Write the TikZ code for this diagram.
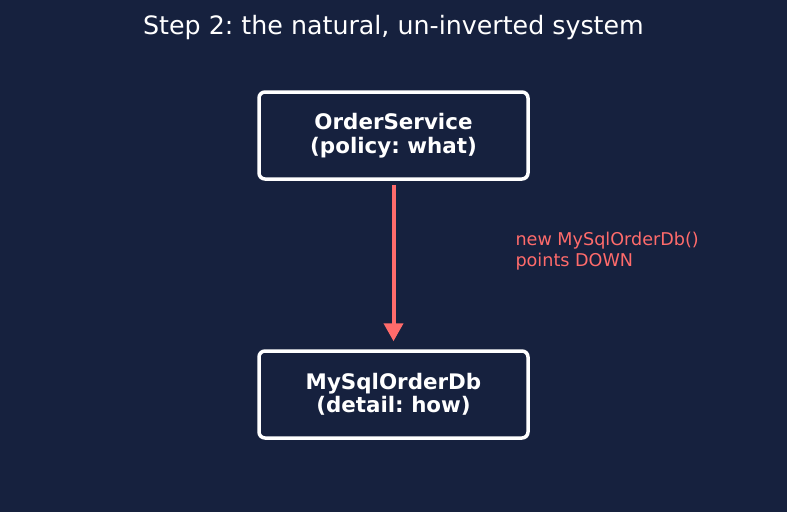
\documentclass[tikz,border=0pt]{standalone}
\usepackage{fontspec}
\setmainfont{DejaVu Sans}
\usepackage{xcolor}
\usetikzlibrary{positioning,arrows.meta}

\definecolor{bgnavy}{HTML}{16213E}
\definecolor{coral}{HTML}{FF6B6B}
\frenchspacing

\begin{document}
\begin{tikzpicture}[x=1pt,y=-1pt,
    every node/.style={on grid,node distance=259pt},
    layer/.style={draw=white,line width=3.5pt,rounded corners=6pt,fill=bgnavy,
      text=white,minimum width=269pt,minimum height=87pt,align=center,
      font=\fontsize{21.4}{23.5}\selectfont\bfseries},
    calls/.style={draw=coral,line width=4pt,-{Triangle[length=18pt,width=19pt]}}]
    \fill[bgnavy] (0,0) rectangle (787,512);
    \useasboundingbox (0,0) rectangle (787,512);
    \node[text=white,font=\fontsize{25.3}{28}\selectfont] (title) at (393.5,28) {Step 2: the natural, un-inverted system};
    \node[layer] (svc) at (393.5,135.5) {OrderService\\(policy: what)};
    \node[layer,below of=svc] (db) {MySqlOrderDb\\(detail: how)};
    \draw[calls,shorten <=4pt,shorten >=8pt] (svc) -- (db);
    \node[text=coral,align=left,anchor=west,font=\fontsize{17.6}{21}\selectfont] (note) at (512,251) {new MySqlOrderDb()\\points DOWN};
  \end{tikzpicture}
\end{document}
